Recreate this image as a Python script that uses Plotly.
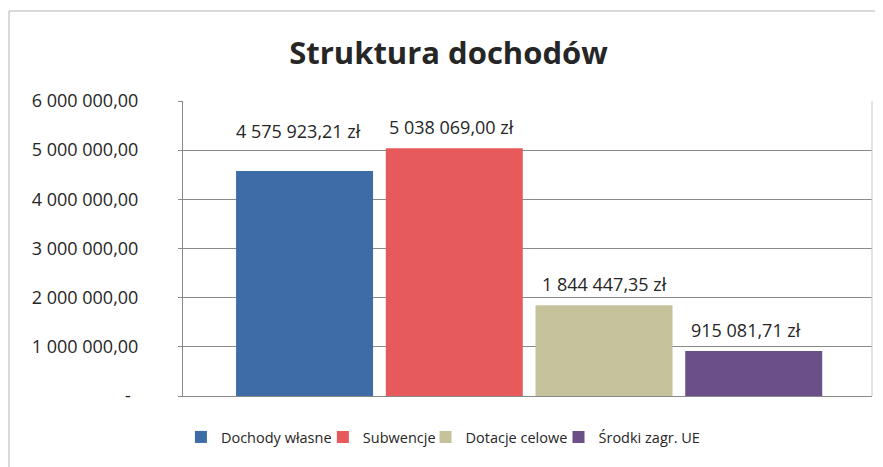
import plotly.graph_objects as go

# ---- data ----
categories = ["Dochody własne", "Subwencje", "Dotacje celowe", "Środki zagr. UE"]
values = [4575923.21, 5038069.00, 1844447.35, 915081.71]
value_labels = ["4 575 923,21 zł", "5 038 069,00 zł", "1 844 447,35 zł", "915 081,71 zł"]
colors = ["#3d6ca7", "#e65a5c", "#c6c29c", "#6a4f88"]
label_shift = [26, 7, 7, 7]
label_xshift = [-6, -3, 0, -8]
legend_x = [-0.003, 0.203, 0.352, 0.545]
y_tickvals = [0, 1000000, 2000000, 3000000, 4000000, 5000000, 6000000]
y_ticktext = ["-\u00a0\u2009", "1 000 000,00", "2 000 000,00", "3 000 000,00",
              "4 000 000,00", "5 000 000,00", "6 000 000,00"]

FONT = "Open Sans"
TXT = "#262626"
fig = go.Figure()
legend_names = ["legend", "legend2", "legend3", "legend4"]
for i, (cat, val, col) in enumerate(zip(categories, values, colors)):
    fig.add_trace(go.Bar(
        x=[i], y=[val], name=cat, width=0.915,
        marker=dict(color=col, line=dict(width=0)),
        hoverinfo="skip", legend=legend_names[i],
    ))
    fig.add_annotation(
        x=i, y=val, text=value_labels[i], showarrow=False,
        yanchor="bottom", yshift=label_shift[i], xshift=label_xshift[i],
        font=dict(family=FONT, size=18, color=TXT),
    )

legend_common = dict(orientation="h", xanchor="left", y=-0.139, yanchor="middle",
                     font=dict(family=FONT, size=14.5, color=TXT),
                     itemwidth=30, bgcolor="rgba(0,0,0,0)", itemclick=False)

fig.update_layout(
    width=875, height=459,
    margin=dict(l=175, r=11, t=93, b=71),
    paper_bgcolor="white", plot_bgcolor="white",
    barmode="overlay",
    title=dict(text="<b>Struktura dochodów</b>", x=0.5034, xanchor="center",
               y=0.902, yanchor="middle",
               font=dict(family=FONT, size=31, color=TXT)),
    xaxis=dict(range=[-0.812, 3.79], showticklabels=False, showgrid=False,
               zeroline=False, showline=True, linecolor="#8a8a8a", linewidth=1,
               fixedrange=True),
    yaxis=dict(range=[0, 6000000], tickvals=y_tickvals, ticktext=y_ticktext,
               showgrid=True, gridcolor="#8a8a8a", gridwidth=1,
               zeroline=False, showline=True, linecolor="#8a8a8a", linewidth=1,
               ticks="outside", ticklen=4, tickcolor="#8a8a8a",
               ticklabelstandoff=36,
               tickfont=dict(family=FONT, size=18, color=TXT)),
    legend=dict(x=legend_x[0], **legend_common),
    legend2=dict(x=legend_x[1], **legend_common),
    legend3=dict(x=legend_x[2], **legend_common),
    legend4=dict(x=legend_x[3], **legend_common),
    showlegend=True,
    shapes=[
        dict(type="rect", xref="paper", yref="paper",
             x0=-0.2525, x1=1.1, y0=-0.4, y1=1.305,
             line=dict(color="#b4b4b4", width=1)),
        dict(type="line", xref="paper", yref="paper",
             x0=1, x1=1, y0=0, y1=1, line=dict(color="#c8c8c8", width=1)),
    ],
)

fig.write_html("out.html")
